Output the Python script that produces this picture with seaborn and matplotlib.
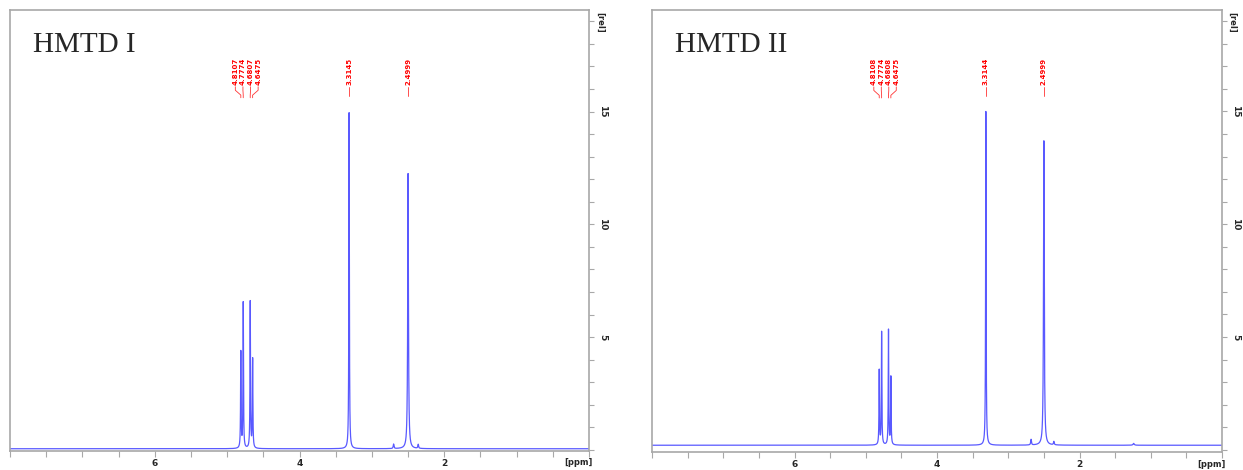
import numpy as np
import pandas as pd
import matplotlib
matplotlib.use("Agg")
import matplotlib.pyplot as plt
import seaborn as sns
from matplotlib.ticker import MultipleLocator, FixedLocator, FuncFormatter
import matplotlib.transforms as mtransforms

# ---------------- data ----------------
titles = ["HMTD I", "HMTD II"]

shifts_I = [4.8107, 4.7774, 4.6807, 4.6475, 3.3145, 2.4999, 2.70, 2.36]
heights_I = [4.26, 6.45, 6.50, 3.94, 14.9, 12.2, 0.20, 0.18]
labels_I = ["4.8107", "4.7774", "4.6807", "4.6475", "3.3145", "2.4999"]
baseline_I = 0.05

shifts_II = [4.8108, 4.7774, 4.6808, 4.6475, 3.3144, 2.4999, 2.68, 2.36, 1.24]
heights_II = [3.30, 5.00, 5.10, 3.00, 14.8, 13.5, 0.25, 0.15, 0.08]
labels_II = ["4.8108", "4.7774", "4.6808", "4.6475", "3.3144", "2.4999"]
baseline_II = 0.2

linewidths_ppm = [0.004, 0.004, 0.004, 0.004, 0.004, 0.006, 0.006, 0.006, 0.01]

x_ticks = [6, 4, 2]
y_ticks = [5, 10, 15]

# ---------------- figure ----------------
sns.set_style("ticks")
plt.rcParams["font.family"] = ["DejaVu Sans"]

fig = plt.figure(figsize=(12.43, 4.70), dpi=100)
ax_pos = [
    [10 / 1243, 1 - 451 / 470, 579 / 1243, 441 / 470],
    [652 / 1243, 1 - 452 / 470, 570 / 1243, 442 / 470],
]
ylims = [(-0.05, 19.5), (-0.1, 19.5)]

ppm = np.linspace(8.0, 0.0, 60001)

datasets = [
    (shifts_I, heights_I, labels_I, baseline_I),
    (shifts_II, heights_II, labels_II, baseline_II),
]

spine_col = "#a8a8a8"
line_col = "#3c3cff"

for i, (shifts, heights, labels, base) in enumerate(datasets):
    ax = fig.add_axes(ax_pos[i])
    inten = np.full_like(ppm, base)
    for c, h, w in zip(shifts, heights, linewidths_ppm):
        inten += h / (1 + ((ppm - c) / w) ** 2)
    df = pd.DataFrame({"ppm": ppm, "intensity": inten})
    sns.lineplot(data=df, x="ppm", y="intensity", ax=ax, color=line_col,
                 lw=0.9, alpha=0.85, estimator=None, sort=False)

    ax.set_xlim(8, 0)
    ax.set_ylim(*ylims[i])
    ax.set_xlabel("")
    ax.set_ylabel("")

    for s in ax.spines.values():
        s.set_color(spine_col)
        s.set_linewidth(1.2)
        s.set_visible(True)

    # x axis
    ax.xaxis.set_major_locator(FixedLocator(x_ticks))
    ax.xaxis.set_minor_locator(MultipleLocator(0.5))
    ax.xaxis.set_major_formatter(FuncFormatter(lambda v, p: f"{v:g}"))
    ax.tick_params(axis="x", which="both", direction="out", length=4,
                   width=0.8, color=spine_col, labelsize=6.5, pad=2)
    for t in ax.get_xticklabels():
        t.set_fontweight("bold")

    # y axis on the right
    ax.yaxis.tick_right()
    ax.yaxis.set_major_locator(FixedLocator(y_ticks))
    ax.yaxis.set_minor_locator(MultipleLocator(1))
    ax.yaxis.set_major_formatter(FuncFormatter(lambda v, p: f"{v:g}"))
    ax.tick_params(axis="y", which="both", direction="out", length=3.5,
                   width=0.8, color=spine_col, labelsize=6.5, pad=3,
                   left=False, right=True, labelleft=False, labelright=True)
    for t in ax.get_yticklabels():
        t.set_rotation(-90)
        t.set_fontweight("bold")
        t.set_va("center")

    ax.text(0.981, -0.017, "[ppm]", transform=ax.transAxes, ha="center",
            va="top", fontsize=6, fontweight="bold")
    ax.text(1.018, 0.972, "[rel]", transform=ax.transAxes, ha="center",
            va="center", fontsize=6, fontweight="bold", rotation=-90)

    ax.text(0.04, 0.905, titles[i], transform=ax.transAxes, ha="left",
            va="baseline", fontsize=21, family="Liberation Serif")

    # peak labels
    trans = mtransforms.blended_transform_factory(ax.transData, ax.transAxes)
    grp = shifts[:4]
    center = (grp[0] + grp[-1]) / 2
    spread = 0.105
    lab_x = [center + spread * k for k in (1.5, 0.5, -0.5, -1.5)]
    for k in range(4):
        ax.text(lab_x[k], 0.830, labels[k], transform=trans, rotation=90,
                ha="center", va="bottom", fontsize=5.0, fontweight="bold",
                color="red")
        ax.plot([lab_x[k], lab_x[k], grp[k], grp[k]],
                [0.826, 0.818, 0.807, 0.801], transform=trans, color="red",
                lw=0.6, alpha=0.8)
    for k in (4, 5):
        ax.text(shifts[k], 0.830, labels[k], transform=trans, rotation=90,
                ha="center", va="bottom", fontsize=5.0, fontweight="bold",
                color="red")
        ax.plot([shifts[k], shifts[k]], [0.826, 0.805], transform=trans,
                color="red", lw=0.6, alpha=0.8)

fig.savefig("out.png", dpi=100)
